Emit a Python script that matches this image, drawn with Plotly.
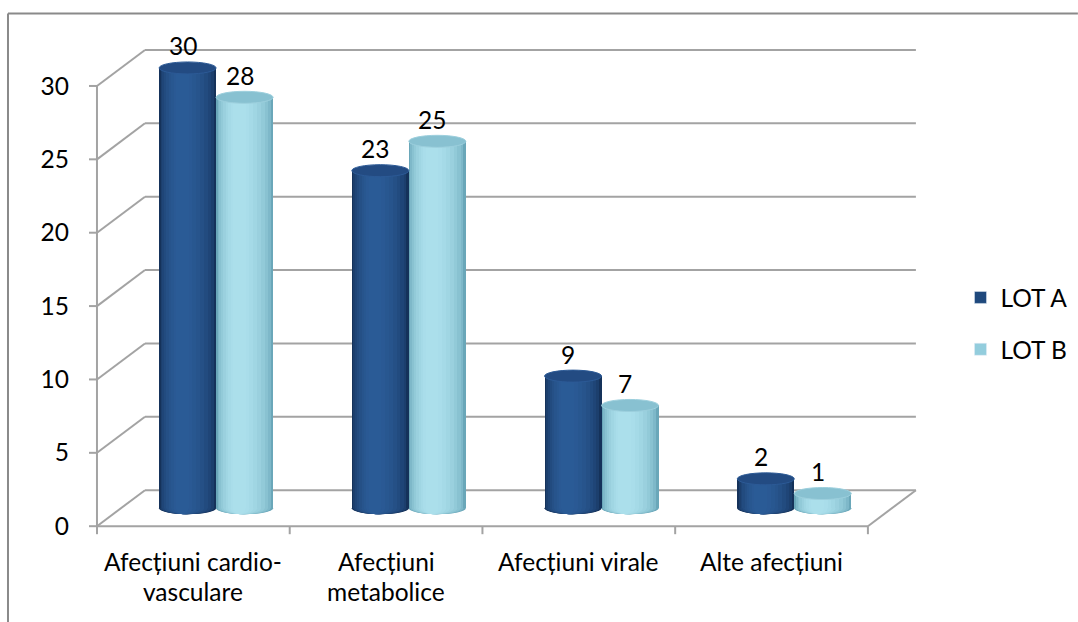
import plotly.graph_objects as go

# ---- data -----------------------------------------------------------------
categories = ["Afecțiuni cardio-<br>vasculare", "Afecțiuni<br>metabolice",
              "Afecțiuni virale", "Alte afecțiuni"]
lot_a = [30, 23, 9, 2]
lot_b = [28, 25, 7, 1]
series_names = ["LOT A", "LOT B"]
y_ticks = [0, 5, 10, 15, 20, 25, 30]

# ---- geometry of the pseudo 3-D box -----------------------------------------
W, H = 1078, 622
FRONT_LEFT_PX = 97          # pixel column of the front value axis
FRONT_ZERO_PX = 526         # pixel row of value 0 on the front plane
PX_PER_CAT = 192.75         # pixels per category slot
PX_PER_UNIT = 14.667        # pixels per value unit
DX = 48 / PX_PER_CAT        # depth of the box, horizontal (category units)
DY = 36 / PX_PER_UNIT       # depth of the box, vertical (value units)
X_RANGE = [-0.14, 4.40]
Y_RANGE = [-0.6, 33.2]
N = len(categories)

BAR_W = 57 / PX_PER_CAT     # cylinder diameter
PAIR_SHIFT = 0.118          # cylinders stand half way into the box
CAP = 6 / PX_PER_UNIT       # half height of the elliptic ends

FONT = "Lato"
FS = 24.5
GRID = "#a3a3a3"


def mix(c0, c1, t):
    a = [int(c0[i:i + 2], 16) for i in (1, 3, 5)]
    b = [int(c1[i:i + 2], 16) for i in (1, 3, 5)]
    return "#" + "".join(f"{round(p + (q - p) * t):02x}" for p, q in zip(a, b))


# shading bands of each cylinder: (width fraction, colour), outer to inner
BAND_FRACS = [1.0, 0.93, 0.85, 0.76, 0.66, 0.55, 0.44, 0.33, 0.22]
EDGE = ["#15325a", "#6aa7b9"]
CORE = ["#2b5c98", "#ade1ed"]
SHADES = [[(f, mix(EDGE[s], CORE[s], (1 - f * f) ** 0.6)) for f in BAND_FRACS]
          for s in range(2)]
LEGEND_COL = ["#1f497d", "#93cddd"]
CAP_FILL = ["#234b82", "#88c1d1"]
CAP_LINE = ["#2c5a96", "#9ccfdd"]

margin = dict(
    l=FRONT_LEFT_PX + X_RANGE[0] * PX_PER_CAT,
    r=W - (FRONT_LEFT_PX + X_RANGE[1] * PX_PER_CAT),
    t=FRONT_ZERO_PX - Y_RANGE[1] * PX_PER_UNIT,
    b=H - (FRONT_ZERO_PX - Y_RANGE[0] * PX_PER_UNIT),
    autoexpand=False,
)

fig = go.Figure()
shapes = []
annotations = []


def line(x0, y0, x1, y1, color=GRID, width=2, layer="between"):
    shapes.append(dict(type="line", xref="x", yref="y", x0=x0, y0=y0, x1=x1, y1=y1,
                       line=dict(color=color, width=width), layer=layer))


# back wall gridlines and the side-wall diagonals
for v in y_ticks:
    line(DX, v + DY, N + DX, v + DY)
    line(0, v, DX, v + DY)
# floor front edge and right edge
line(0, 0, N, 0)
line(N, 0, N + DX, DY)
# front value axis with its ticks
line(0, 0, 0, max(y_ticks))
for v in y_ticks:
    line(-8 / PX_PER_CAT, v, 0, v)
for c in range(N + 1):
    line(c, 0, c, -8 / PX_PER_UNIT)

# cylinders
for s, (name, vals) in enumerate(zip(series_names, [lot_a, lot_b])):
    sign = -1 if s == 0 else 1
    centers = [c + 0.5 + PAIR_SHIFT + sign * BAR_W / 2 for c in range(N)]
    # legend entry carries the series colour
    fig.add_trace(go.Bar(x=[None], y=[None], name=name, legendgroup=name,
                         marker=dict(color=LEGEND_COL[s]), showlegend=True))
    for frac, col in SHADES[s]:
        w = BAR_W * frac
        off = -(1 - frac) * 0.12 * BAR_W
        xs = [cx + off for cx in centers]
        # rounded lower end of the band
        for cx in xs:
            shapes.append(dict(type="circle", xref="x", yref="y",
                               x0=cx - w / 2, x1=cx + w / 2,
                               y0=DY / 2 - CAP, y1=DY / 2 + CAP,
                               fillcolor=col, line=dict(width=0), layer="between"))
        fig.add_trace(go.Bar(
            x=xs, y=vals, base=[DY / 2] * N, width=[w] * N,
            marker=dict(color=col, line=dict(width=0)),
            name=name, legendgroup=name, showlegend=False,
            hoverinfo="skip",
        ))
    # top caps and value labels
    for cx, v in zip(centers, vals):
        top = v + DY / 2
        shapes.append(dict(type="circle", xref="x", yref="y",
                           x0=cx - BAR_W / 2, x1=cx + BAR_W / 2,
                           y0=top - CAP, y1=top + CAP,
                           fillcolor=CAP_FILL[s], line=dict(color=CAP_LINE[s], width=1),
                           layer="above"))
        annotations.append(dict(x=cx, y=top, xref="x", yref="y", text=str(v),
                                showarrow=False, yshift=22, xshift=-5,
                                yanchor="middle", xanchor="center",
                                font=dict(family=FONT, size=FS, color="#000")))

# category labels (two lines with generous spacing)
for c, label in enumerate(categories):
    for i, part in enumerate(label.split("<br>")):
        annotations.append(dict(x=c + 0.5, y=0, xref="x", yref="y", text=part,
                                showarrow=False, yshift=-35 - 30 * i,
                                yanchor="middle", xanchor="center",
                                font=dict(family=FONT, size=FS, color="#000")))

fig.update_layout(
    width=W, height=H,
    margin=margin,
    paper_bgcolor="white",
    plot_bgcolor="rgba(0,0,0,0)",
    barmode="overlay",
    bargap=0,
    shapes=shapes,
    annotations=annotations,
    font=dict(family=FONT, size=FS, color="#000"),
    xaxis=dict(range=X_RANGE, showgrid=False, zeroline=False, showline=False,
               showticklabels=False, ticks=""),
    yaxis=dict(range=Y_RANGE, showgrid=False, zeroline=False, showline=False,
               tickmode="array", tickvals=y_ticks, ticks="",
               tickfont=dict(family=FONT, size=FS, color="#000")),
    legend=dict(xref="container", yref="container", x=0.891, y=1 - 275 / H,
                xanchor="left", yanchor="top", tracegroupgap=17,
                font=dict(family=FONT, size=FS, color="#000"),
                bgcolor="rgba(0,0,0,0)"),
)

# chart frame (top and left edges), placed in container pixels
pw = W - margin["l"] - margin["r"]
ph = H - margin["t"] - margin["b"]
frame = dict(color="#8a8a8a", width=2)
fx = (8 - margin["l"]) / pw
fy_top = (H - 13.5 - margin["b"]) / ph
fig.add_shape(type="line", xref="paper", yref="paper",
              x0=fx, x1=(W - margin["l"]) / pw, y0=fy_top, y1=fy_top, line=frame)
fig.add_shape(type="line", xref="paper", yref="paper",
              x0=fx, x1=fx, y0=-margin["b"] / ph, y1=fy_top, line=frame)

fig.write_html("out.html")
